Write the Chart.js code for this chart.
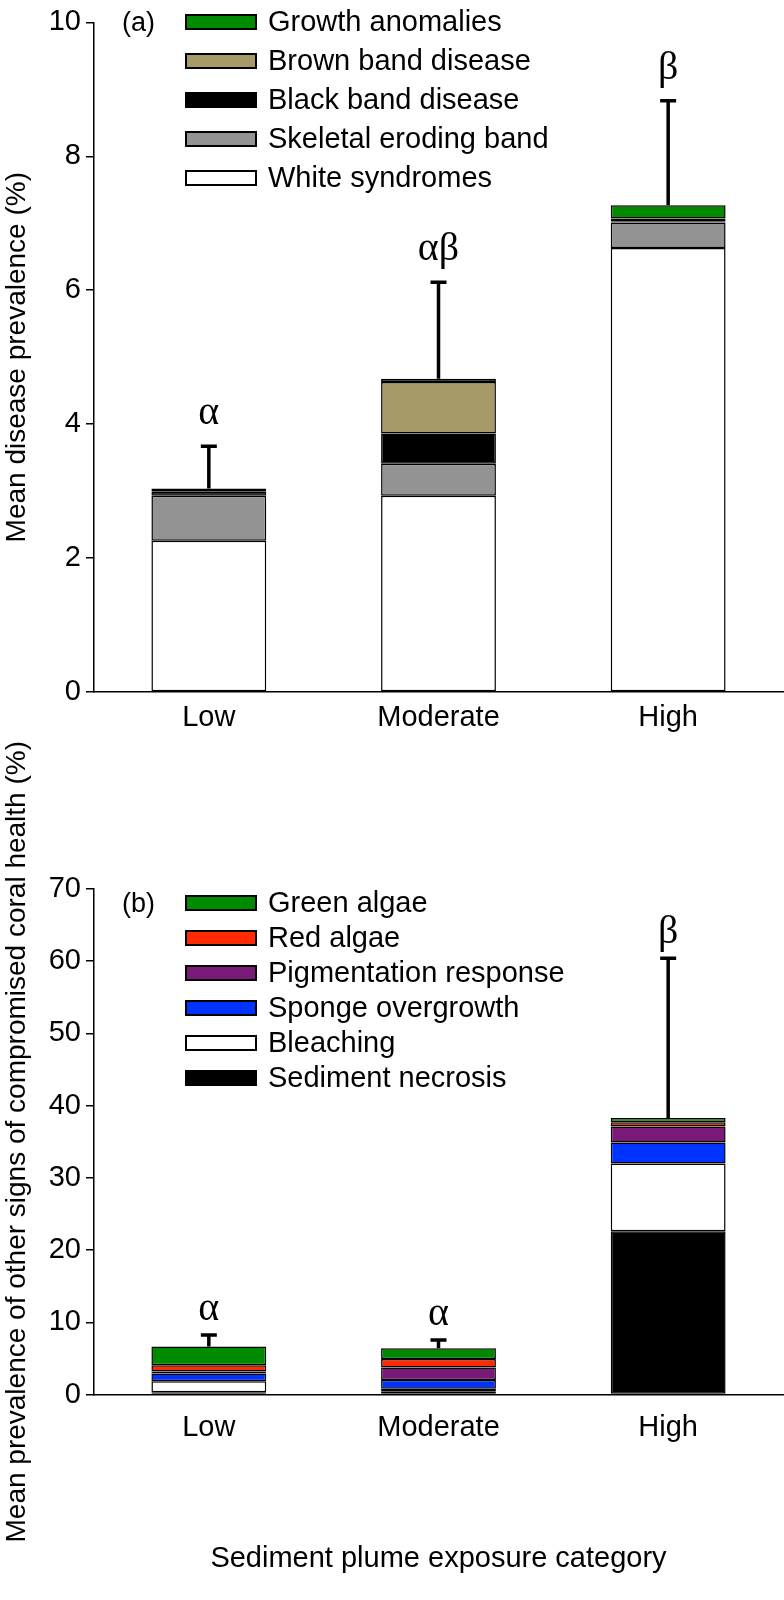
<!DOCTYPE html>
<html>
<head>
<meta charset="utf-8">
<script src="https://cdn.jsdelivr.net/npm/chart.js@4.4.1/dist/chart.umd.min.js"></script>
<style>
html, body { margin: 0; padding: 0; background: #fff; }
#wrap { position: relative; width: 784px; height: 1600px; }
canvas { position: absolute; left: 0; }
#panelA { top: 0; }
#panelB { top: 690px; }
</style>
</head>
<body>
<div id="wrap">
  <canvas id="panelA" width="784" height="745"></canvas>
  <canvas id="panelB" width="784" height="910"></canvas>
</div>
<script>
// categorias
const categories = ["Low", "Moderate", "High"];

// (a) enfermedades
const whiteSyndromes = [2.26, 2.93, 6.63];
const skeletalErodingBand = [0.67, 0.48, 0.38];
const blackBandDisease = [0.06, 0.45, 0.02];
const brownBandDisease = [0.04, 0.77, 0.04];
const growthAnomalies = [0.01, 0.05, 0.20];
const diseaseSE = [0.63, 1.44, 1.56];
const diseaseLetters = ["α", "αβ", "β"];

// (b) otros signos
const sedimentNecrosis = [0.3, 0.45, 22.6];
const bleaching = [1.55, 0.35, 9.4];
const spongeOvergrowth = [1.05, 1.2, 2.9];
const pigmentationResponse = [0.3, 1.75, 2.2];
const redAlgae = [0.85, 1.15, 0.6];
const greenAlgae = [2.6, 1.5, 0.6];
const otherSE = [1.6, 1.15, 22.1];
const otherLetters = ["α", "α", "β"];

const SANS = "'Liberation Sans', Arial, sans-serif";
const SERIF = "'Liberation Serif', 'Times New Roman', serif";
const FS = 29;

function serie(label, data, color) {
  return {
    label: label,
    data: data,
    backgroundColor: color,
    borderColor: "#000",
    borderWidth: 1.5,
    borderSkipped: false,
    categoryPercentage: 1.0,
    barPercentage: 0.5,
  };
}

// dibuja barras de error, letras, leyenda y etiqueta del panel
const extras = {
  id: "extras",
  afterDatasetsDraw(chart, args, opts) {
    const ctx = chart.ctx;
    const y = chart.scales.y;
    const sets = chart.data.datasets;
    const last = chart.getDatasetMeta(sets.length - 1);
    ctx.save();
    for (let i = 0; i < categories.length; i++) {
      let total = 0;
      sets.forEach((d) => (total += d.data[i]));
      const x = last.data[i].x;
      const yTop = y.getPixelForValue(total);
      const yTip = y.getPixelForValue(total + opts.se[i]);
      ctx.strokeStyle = "#000";
      ctx.lineWidth = 3.5;
      ctx.beginPath();
      ctx.moveTo(x, yTop);
      ctx.lineTo(x, yTip);
      ctx.moveTo(x - 8, yTip);
      ctx.lineTo(x + 8, yTip);
      ctx.stroke();
      ctx.fillStyle = "#000";
      ctx.font = "40px " + SERIF;
      ctx.textAlign = "center";
      ctx.textBaseline = "alphabetic";
      ctx.fillText(opts.letters[i], x, yTip - opts.letterGap);
    }
    // leyenda
    const lg = opts.legend;
    ctx.font = FS + "px " + SANS;
    ctx.textAlign = "left";
    ctx.textBaseline = "middle";
    for (let k = 0; k < sets.length; k++) {
      const d = sets[sets.length - 1 - k];
      const cy = lg.y + k * lg.step;
      ctx.fillStyle = d.backgroundColor;
      ctx.fillRect(lg.x, cy - 7, 70, 14);
      ctx.strokeStyle = "#000";
      ctx.lineWidth = 2;
      ctx.strokeRect(lg.x, cy - 7, 70, 14);
      ctx.fillStyle = "#000";
      ctx.fillText(d.label, lg.x + 82, cy + 1);
    }
    ctx.font = (FS - 2) + "px " + SANS;
    ctx.fillText(opts.panel, 122, lg.y + 2);
    ctx.restore();
  },
};

function opciones(cfg) {
  return {
    responsive: false,
    animation: false,
    devicePixelRatio: 1,
    layout: { padding: { top: cfg.top, right: 1, left: 0, bottom: 0 } },
    plugins: {
      legend: { display: false },
      tooltip: { enabled: false },
      extras: cfg.extras,
    },
    scales: {
      x: {
        stacked: true,
        grid: { display: true, drawOnChartArea: false, drawTicks: false },
        border: { display: true, color: "#000", width: 1.5 },
        ticks: { color: "#000", font: { family: SANS, size: FS }, padding: cfg.labelPad },
        title: {
          display: !!cfg.xTitle,
          text: cfg.xTitle || "",
          color: "#000",
          font: { family: SANS, size: FS },
          padding: { top: 0, bottom: 24 },
        },
        afterFit: (s) => { s.height = cfg.xHeight; },
      },
      y: {
        stacked: true,
        min: 0,
        max: cfg.max,
        ticks: {
          stepSize: cfg.step,
          color: "#000",
          font: { family: SANS, size: FS },
          padding: 5,
        },
        grid: { drawOnChartArea: false, color: "#000", lineWidth: 1.5, tickLength: 8 },
        border: { display: true, color: "#000", width: 1.5 },
        title: {
          display: true,
          text: cfg.yTitle,
          color: "#000",
          font: { family: SANS, size: 28 },
          padding: { top: 0, bottom: 0 },
        },
        afterFit: (s) => { s.width = 94; },
      },
    },
  };
}

new Chart(document.getElementById("panelA"), {
  type: "bar",
  data: {
    labels: categories,
    datasets: [
      serie("White syndromes", whiteSyndromes, "#ffffff"),
      serie("Skeletal eroding band", skeletalErodingBand, "#939393"),
      serie("Black band disease", blackBandDisease, "#000000"),
      serie("Brown band disease", brownBandDisease, "#a59a68"),
      serie("Growth anomalies", growthAnomalies, "#008a00"),
    ],
  },
  options: opciones({
    top: 17,
    xHeight: 745 - 692,
    labelPad: 9,
    max: 10,
    step: 2,
    yTitle: "Mean disease prevalence (%)",
    extras: {
      se: diseaseSE,
      letters: diseaseLetters,
      letterGap: 22,
      legend: { x: 186, y: 22, step: 39 },
      panel: "(a)",
    },
  }),
  plugins: [extras],
});

new Chart(document.getElementById("panelB"), {
  type: "bar",
  data: {
    labels: categories,
    datasets: [
      serie("Sediment necrosis", sedimentNecrosis, "#000000"),
      serie("Bleaching", bleaching, "#ffffff"),
      serie("Sponge overgrowth", spongeOvergrowth, "#0033ff"),
      serie("Pigmentation response", pigmentationResponse, "#7a1a78"),
      serie("Red algae", redAlgae, "#ff2a00"),
      serie("Green algae", greenAlgae, "#008a00"),
    ],
  },
  options: opciones({
    top: 199,
    xHeight: 910 - 704.5,
    labelPad: 16,
    max: 70,
    step: 10,
    xTitle: "Sediment plume exposure category",
    yTitle: "Mean prevalence of other signs of compromised coral health (%)",
    extras: {
      se: otherSE,
      letters: otherLetters,
      letterGap: 15,
      legend: { x: 186, y: 213, step: 35 },
      panel: "(b)",
    },
  }),
  plugins: [extras],
});
</script>
</body>
</html>
